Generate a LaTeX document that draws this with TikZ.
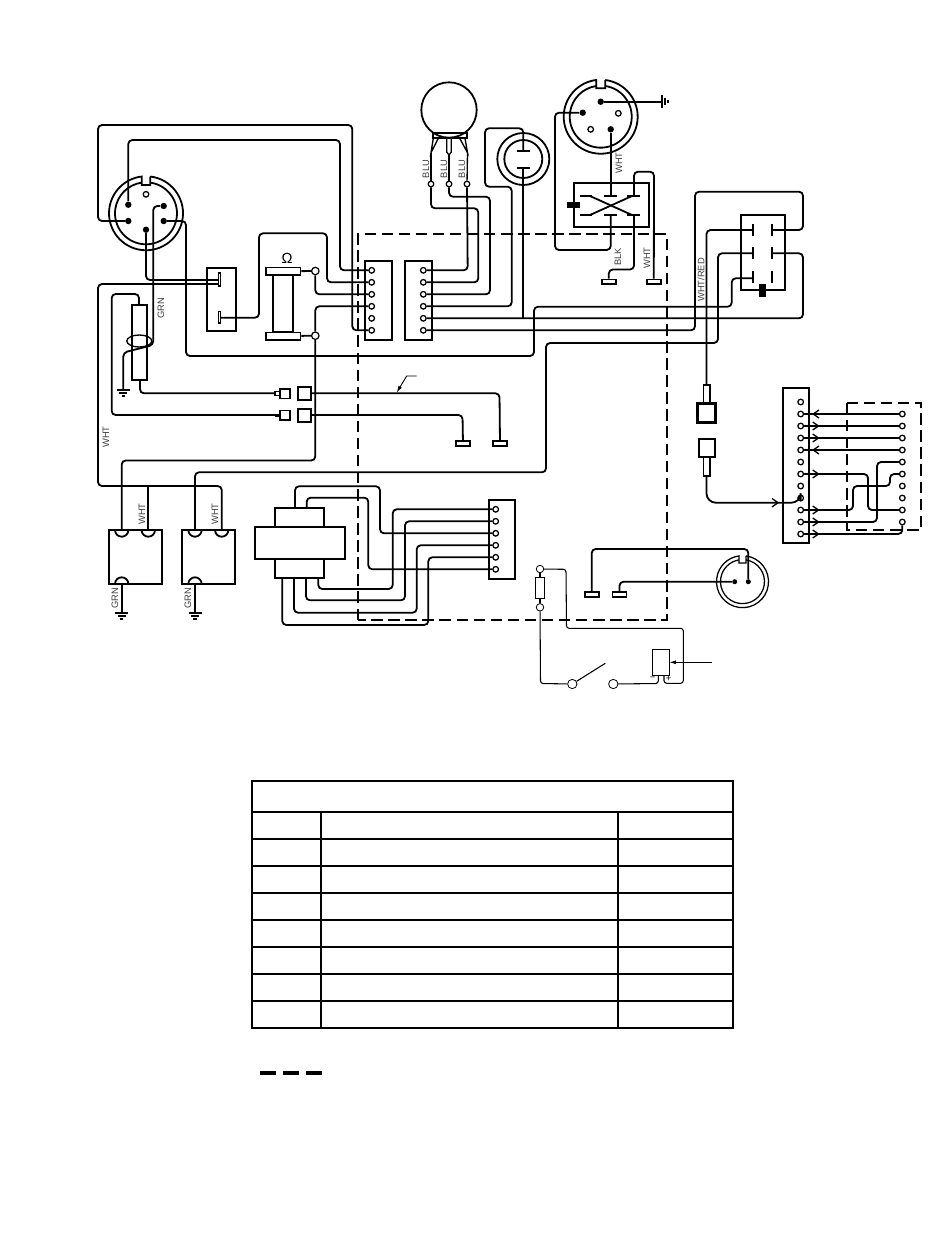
\documentclass[tikz,border=0pt]{standalone}
\usepackage{fontspec}
\setsansfont{Liberation Sans}
\usetikzlibrary{arrows.meta}
\definecolor{labelGray}{gray}{0.25}
\tikzset{
  wire/.style={line width=1.35pt,rounded corners=3pt},
  thinwire/.style={line width=0.8pt,rounded corners=2pt},
  part/.style={line width=1.35pt},
  pin/.style={circle,draw,fill=white,line width=0.95pt,inner sep=0pt,minimum size=4.2pt},
  pole/.style={circle,draw,fill=white,line width=0.9pt,inner sep=0pt,minimum size=5.6pt},
  stud/.style={circle,fill=black,inner sep=0pt,minimum size=4.8pt},
  lug/.style={rectangle,draw,fill=white,line width=1.2pt,inner sep=0pt,minimum width=10.6pt,minimum height=3.6pt},
  tag/.style={rotate=90,font=\sffamily\fontsize{7}{8}\selectfont,text=labelGray,inner sep=0pt},
  border/.style={line width=1.35pt,dash pattern=on 8.6pt off 4.2pt}
}
\newcommand{\gnd}[2]{%
  \draw[line width=1.7pt] (#1-6.5,#2) -- (#1+6.5,#2);
  \draw[line width=1.6pt] (#1-4,#2+3.4) -- (#1+4,#2+3.4);
  \draw[line width=1.5pt] (#1-1.7,#2+6.4) -- (#1+1.7,#2+6.4);}
\begin{document}
\begin{tikzpicture}[x=0.75pt,y=-0.75pt]
  \useasboundingbox (0,0) rectangle (950,1254);

  % dashed panel
  \draw[border] (358,620) -- (358,234) -- (667,234) -- (667,620) -- cycle;
  \draw[border] (846.7,402.7) rectangle (921.3,530);

  % left plug
  \draw[part] (150.2,176.5) arc (-83.5:263.5:37) -- (141.8,185) -- (150.2,185) -- (150.2,176.5);
  \draw[part] (150.2,182.6) arc (-82.2:262.2:31);
  \node[pin] (plugAo) at (146,194.3) {};
  \node[stud] (plugAa) at (128.3,204.7) {};
  \node[stud] (plugAb) at (163.7,206) {};
  \node[stud] (plugAc) at (128.3,221) {};
  \node[stud] (plugAd) at (163.7,221) {};
  \node[stud] (plugAe) at (146,229.7) {};

  % block with two blades
  \draw[part] (206.7,268) rectangle (236,331);
  \draw[line width=0.9pt] (218.2,273) rectangle (220.6,286);
  \draw[line width=0.9pt] (218.2,311.7) rectangle (220.6,323);
  \coordinate (bladeA) at (218.2,280);
  \coordinate (bladeB) at (218.2,284);
  \coordinate (bladeC) at (220.6,317.7);

  % resistor
  \draw[part] (272.7,275) rectangle (293.3,332.3);
  \node[rectangle,draw,fill=white,line width=1.2pt,inner sep=0pt,minimum width=26.2pt,minimum height=5.5pt] (resTop) at (283.2,271.3) {};
  \node[rectangle,draw,fill=white,line width=1.2pt,inner sep=0pt,minimum width=26.2pt,minimum height=5.5pt] (resBot) at (283.2,336.1) {};
  \node[font=\sffamily\fontsize{11}{12}\selectfont,inner sep=0pt] (resOhm) at (287,258) {Ω};
  \node[pole] (resA) at (315.3,271) {};
  \node[pole] (resB) at (315.3,335.7) {};
  \draw[part] (resTop) -- (resA);
  \draw[part] (resBot) -- (resB);

  % pin boxes
  \draw[part] (364.7,261) rectangle (392,340);
  \draw[part] (404.7,261) rectangle (432,340);
  \foreach \i in {1,...,6} {
    \node[pin] (lp\i) at (371.7,258.3+12*\i) {};
    \node[pin] (rp\i) at (423.3,258.3+12*\i) {};
  }

  % pot
  \draw[part] (449,110) circle (27.7);
  \draw[part] (432.7,133.3) rectangle (466.7,138.3);
  \draw[line width=1pt] (433.3,138.3) -- (431,152.7) -- (438.3,138.3);
  \draw[line width=1pt] (446.7,138.3) -- (446.7,152) -- (449,155) -- (451.3,152) -- (451.3,138.3);
  \draw[line width=1pt] (465,138.3) -- (467.5,152.7) -- (459.7,138.3);
  \node[pin] (potA) at (431,184) {};
  \node[pin] (potB) at (449,184) {};
  \node[pin] (potC) at (467,184) {};
  \draw[line width=1pt] (431,152.7) -- (potA);
  \draw[line width=1pt] (449,155) -- (potB);
  \draw[line width=1pt] (467.5,152.7) -- (potC);

  % round switch
  \draw[part] (523.3,159) circle (26);
  \draw[part] (523.3,159) circle (19);
  \draw[part] (516.7,151) -- (530,151);
  \draw[part] (516.7,168.3) -- (530,168.3);
  \coordinate (roundA) at (523.3,151);
  \coordinate (roundB) at (523.3,168.3);

  % right plug
  \draw[part] (605.2,80) arc (-83:263:37) -- (596.2,88.3) -- (605.2,88.3) -- (605.2,80);
  \draw[part] (605.2,86) arc (-81.7:261.7:31);
  \node[stud] (plugBa) at (600.7,101.7) {};
  \node[pin] (plugBo) at (618.3,113.3) {};
  \node[stud] (plugBb) at (582.7,112.7) {};
  \node[pin] (plugBp) at (590.7,129.3) {};
  \node[stud] (plugBc) at (610.7,129.3) {};
  \coordinate (earthB) at (661.7,101.7);
  \draw[wire] (plugBa) -- (earthB);
  \draw[line width=1.7pt] (661.7,95) -- (661.7,108.4);
  \draw[line width=1.6pt] (665,98) -- (665,105.4);
  \draw[line width=1.5pt] (668,100) -- (668,103.4);

  % reversing switch
  \draw[part] (574,182.7) rectangle (649,226.7);
  \fill (567.3,201.7) rectangle (580,208.3);
  \foreach \y in {196,215} {
    \draw[part] (580,\y) -- (591.7,\y);
    \draw[part] (604,\y) -- (616.7,\y);
    \draw[part] (627.3,\y) -- (640,\y);
  }
  \draw[part] (590,196) -- (632,215);
  \draw[part] (590,215) -- (632,196);
  \coordinate (revTop) at (610.7,196);
  \coordinate (revBot) at (610.7,215);
  \coordinate (revA) at (634,196);
  \coordinate (revB) at (634,215);
  \node[lug] (lugBlk) at (608.8,281.7) {};
  \node[lug] (lugWht) at (653.8,281.7) {};

  % double switch
  \draw[part] (740.7,215) rectangle (785,290);
  \foreach \y in {224,247.3,271} {
    \draw[part] (752.7,\y) -- (752.7,\y+12);
    \draw[part] (772.3,\y) -- (772.3,\y+12);
  }
  \fill (759,284) rectangle (766,296.7);
  \coordinate (dsA) at (752.7,230);
  \coordinate (dsB) at (752.7,253.3);
  \coordinate (dsC) at (752.7,278.3);
  \coordinate (dsD) at (772.3,230);
  \coordinate (dsE) at (772.3,253.3);

  % in-line plug
  \draw[line width=1pt] (703.3,385) rectangle (710,403.3);
  \draw[line width=2pt] (697.2,403.8) rectangle (715.5,422.8);
  \draw[line width=1.7pt] (699,439) rectangle (715,456.7);
  \draw[line width=1pt] (703.3,457.3) rectangle (710,476);
  \coordinate (inlineA) at (706.5,385);
  \coordinate (inlineB) at (706.5,476);

  % long strip and harness
  \draw[part] (782.7,387.7) rectangle (809,543.3);
  \foreach \i in {1,...,12} {
    \node[pin] (sl\i) at (800.7,390+12*\i) {};
  }
  \foreach \i in {2,...,11} {
    \node[pin] (sr\i) at (902.3,390+12*\i) {};
  }

  % fuse with loop
  \draw[part] (131.7,305.3) rectangle (147.3,380);
  \draw[line width=1pt] (139.3,341) ellipse (12.5 and 6);
  \coordinate (fuseA) at (139,305.3);
  \coordinate (fuseB) at (140,380);

  % connectors at the wall of the panel
  \draw[line width=1pt,fill=white] (280,389) rectangle (290,398.3);
  \draw[line width=1pt,fill=white] (280,410.7) rectangle (290,420);
  \draw[line width=0.9pt] (275,391.7) rectangle (280,395.3);
  \fill (275,413.5) rectangle (280,417);
  \draw[part] (297.7,386.7) rectangle (310.7,400);
  \draw[part] (297.7,409) rectangle (310.7,422.3);
  \coordinate (blockA) at (275,393.3);
  \coordinate (blockB) at (275,415);
  \coordinate (blockC) at (310.7,393.3);
  \coordinate (blockD) at (310.7,415);
  \node[lug] (lugC) at (463,443.4) {};
  \node[lug] (lugD) at (500,443.4) {};

  % heaters
  \draw[part] (109,530) rectangle (162,584);
  \draw[part] (181.7,530) rectangle (235,584);
  \foreach \x in {121.7,148.3,195,221.7} {
    \draw[part] (\x-6.7,530) arc (180:0:6.7);
  }
  \foreach \x in {121.7,195} {
    \draw[part] (\x-6.7,584) arc (-180:0:6.7);
    \draw[part] (\x,584) -- (\x,613);
    \gnd{\x}{613}
  }
  \coordinate (heatA) at (121.7,530);
  \coordinate (heatB) at (148.3,530);
  \coordinate (heatC) at (195,530);
  \coordinate (heatD) at (221.7,530);

  % transformer
  \draw[part] (275,507.7) rectangle (324,578.3);
  \draw[part,fill=white] (255,526.7) rectangle (345,559);
  \draw[part] (488.7,500) rectangle (515,579);
  \foreach \i in {1,...,6} {
    \node[pin] (tp\i) at (495.7,497.3+12*\i) {};
  }

  % small switch and fuse
  \node[pin,minimum size=5.6pt,line width=0.6pt] (fuseTop) at (540,569) {};
  \node[pin,minimum size=5.6pt,line width=0.6pt] (fuseBot) at (540,607.3) {};
  \draw[line width=0.7pt] (535.3,577.3) rectangle (544.7,598.3);
  \draw[line width=0.8pt] (fuseTop) -- (540,577.3);
  \draw[line width=0.8pt] (fuseBot) -- (540,598.3);
  \node[pin,minimum size=7pt,line width=0.6pt] (swA) at (572.3,684) {};
  \node[pin,minimum size=7pt,line width=0.6pt] (swB) at (613.3,684) {};
  \coordinate (swTip) at (605.3,663.3);
  \draw[line width=0.8pt] (swA) -- (swTip);
  \draw[line width=0.8pt] (652.3,649.3) rectangle (669.3,675.7);
  \coordinate (relayA) at (658.3,675.7);
  \coordinate (relayB) at (664,675.7);
  \coordinate (relayC) at (669.3,662.3);
  \coordinate (relayD) at (711.7,662.3);
  \node[font=\sffamily\fontsize{7}{8}\selectfont,inner sep=0pt] (relayMinus) at (652.7,679) {−};
  \node[font=\sffamily\fontsize{7}{8}\selectfont,inner sep=0pt] (relayPlus) at (668.5,679) {+};

  % lower plug
  \draw[line width=0.95pt] (746,555.9) arc (-82.3:262.3:26) -- (739,563) -- (746,563) -- (746,555.9);
  \draw[line width=0.95pt] (746,559.9) arc (-80.8:260.8:22);
  \node[stud,minimum size=3.8pt] (plugCa) at (734.7,581.7) {};
  \node[stud,minimum size=3.8pt] (plugCb) at (748.3,581.7) {};
  \node[lug] (lugE) at (591.8,594.5) {};
  \node[lug] (lugF) at (619.5,594.5) {};

  % wires from left plug
  \draw[wire] (plugAc) -- (98,221) -- (98,125) -- (352.3,125) -- (352.3,330.3) -- (lp6);
  \draw[wire] (plugAa) -- (128.3,140) -- (340,140) -- (340,270.3) -- (lp1);
  \draw[wire] (plugAb) -- (153.3,206) -- (153.3,345) -- (123.3,352.5) -- (123.3,390);
  \gnd{123.3}{390}
  \draw[wire] (plugAd) -- (186,221) -- (186,356) -- (534,356) -- (534,306.7) -- (731.7,306.7) -- (731.7,278.3) -- (dsC);
  \draw[wire] (plugAe) -- (146,280) -- (bladeA);
  \draw[wire] (bladeB) -- (98,284) -- (98,486) -- (221.7,486) -- (heatD);
  \draw[wire] (148.3,486) -- (heatB);
  \draw[wire] (bladeC) -- (259,317.7) -- (259,233.3) -- (327,233.3) -- (327,282.3) -- (lp2);
  \draw[wire] (resA) -- (315.3,294.3) -- (lp3);
  \draw[wire] (resB) -- (315.3,306.3) -- (lp4);
  \draw[wire] (resB) -- (315.3,460.5) -- (121.7,460.5) -- (heatA);
  \draw[wire] (heatC) -- (195,472.3) -- (546,472.3) -- (546,343) -- (718,343) -- (718,253.3) -- (dsB);

  % wires from pot and round switch
  \draw[wire] (potC) -- (467.7,270.3) -- (rp1);
  \draw[wire] (potA) -- (431,208.3) -- (478.3,208.3) -- (478.3,282.3) -- (rp2);
  \draw[wire] (potB) -- (449,196.7) -- (490,196.7) -- (490,294.3) -- (rp3);
  \draw[wire] (roundA) -- (523.3,128.3) -- (485,128.3) -- (485,186.7) -- (511.7,186.7) -- (511.7,306.3) -- (rp4);
  \draw[wire] (roundB) -- (523.3,318.3);
  \draw[wire] (rp5) -- (803,318.3) -- (803,253.3) -- (dsE);
  \draw[wire] (rp6) -- (695,330.3) -- (695,191.7) -- (803,191.7) -- (803,230) -- (dsD);

  % wires of right plug and switches
  \draw[wire] (plugBb) -- (555,112.7) -- (555,250) -- (610.7,250) -- (revBot);
  \draw[wire] (plugBc) -- (revTop);
  \draw[wire] (revA) -- (634,171.7) -- (654,171.7) -- (lugWht);
  \draw[wire] (revB) -- (634,269.5) -- (608.8,269.5) -- (lugBlk);
  \draw[wire] (dsA) -- (706.5,230) -- (inlineA);
  \draw[wire,rounded corners=7pt] (inlineB) -- (706.5,502.7) -- (800.7,502.7) -- (sl9);
  \draw[line width=1pt] (772,498.5) -- (778,502.7) -- (772,506.9);

  % harness
  \foreach \i in {2,3,4,5} {
    \draw[wire] (sl\i) -- (sr\i);
  }
  \draw[wire] (sl7) -- (868,474) -- (868,510) -- (sr10);
  \draw[wire] (sl10) -- (853,510) -- (853,486) -- (890,486) -- (890,474) -- (sr7);
  \draw[wire] (sl11) -- (877,522) -- (877,462) -- (sr6);
  \draw[wire] (sl12) -- (902.3,534) -- (sr11);
  \foreach \y in {426,438,474,510,522,534} {
    \draw[line width=1pt] (812.7,\y-4) -- (818.5,\y) -- (812.7,\y+4);
  }
  \foreach \y in {414,450} {
    \draw[line width=1pt] (819,\y-4) -- (813.2,\y) -- (819,\y+4);
  }

  % fuse and panel wires
  \draw[wire] (fuseA) -- (139,294) -- (111.7,294) -- (111.7,415) -- (blockB);
  \draw[wire] (fuseB) -- (140,393.3) -- (blockA);
  \draw[wire] (blockC) -- (499.5,393.3) -- (lugD);
  \draw[wire] (blockD) -- (462.5,415) -- (lugC);
  \coordinate (leaderA) at (416.7,376);
  \coordinate (leaderB) at (406.7,376);
  \coordinate (leaderC) at (396.7,392.5);
  \draw[line width=0.7pt,-{Latex[length=5pt,width=3pt]}] (leaderA) -- (leaderB) -- (leaderC);

  % transformer wires
  \draw[wire] (295,507.7) -- (295,486.3) -- (380,486.3) -- (380,533.3) -- (tp3);
  \draw[wire] (306.7,507.7) -- (306.7,497.7) -- (368.3,497.7) -- (368.3,569.3) -- (tp6);
  \draw[wire] (318.3,578.3) -- (318.3,589) -- (392.7,589) -- (392.7,509.3) -- (tp1);
  \draw[wire] (306,578.3) -- (306,600.3) -- (405,600.3) -- (405,521.3) -- (tp2);
  \draw[wire] (294,578.3) -- (294,612.7) -- (416.7,612.7) -- (416.7,545.3) -- (tp4);
  \draw[wire] (282.3,578.3) -- (282.3,625) -- (428.3,625) -- (428.3,557.3) -- (tp5);

  % lower plug wires
  \draw[wire] (plugCb) -- (748.3,549) -- (591.7,549) -- (lugE);
  \draw[wire] (plugCa) -- (619.5,581.7) -- (lugF);

  % thin circuit
  \draw[thinwire] (fuseTop) -- (566,569.3) -- (566.5,628.3) -- (683.3,628.3) -- (683.3,683.3) -- (664,683.3) -- (relayB);
  \draw[thinwire] (fuseBot) -- (540.5,683.5) -- (swA);
  \draw[thinwire] (swB) -- (658.3,683.5) -- (relayA);
  \draw[line width=0.8pt,-{Latex[length=5pt,width=3pt]}] (relayD) -- (relayC);

  % labels
  \node[tag] (tagBluA) at (426,169) {BLU};
  \node[tag] (tagBluB) at (444,169) {BLU};
  \node[tag] (tagBluC) at (462,169) {BLU};
  \node[tag] (tagWhtA) at (619,163) {WHT};
  \node[tag] (tagBlk) at (618,257) {BLK};
  \node[tag] (tagWhtB) at (647,258) {WHT};
  \node[tag] (tagWhtRed) at (701,280) {WHT/RED};
  \node[tag] (tagGrnA) at (161,308) {GRN};
  \node[tag] (tagWhtC) at (106,437) {WHT};
  \node[tag] (tagWhtD) at (142,514) {WHT};
  \node[tag] (tagWhtE) at (215,514) {WHT};
  \node[tag] (tagGrnB) at (115,598) {GRN};
  \node[tag] (tagGrnC) at (188,598) {GRN};

  % table
  \draw[part] (252,781) rectangle (733,1028);
  \foreach \y in {812,839,866,893,920,947,974,1001} {
    \draw[part] (252,\y) -- (733,\y);
  }
  \draw[part] (321,812) -- (321,1028);
  \draw[part] (618,812) -- (618,1028);

  % key line
  \foreach \x in {260,283,306} {
    \draw[line width=2.9pt] (\x,1073) -- (\x+16,1073);
  }
\end{tikzpicture}
\end{document}
